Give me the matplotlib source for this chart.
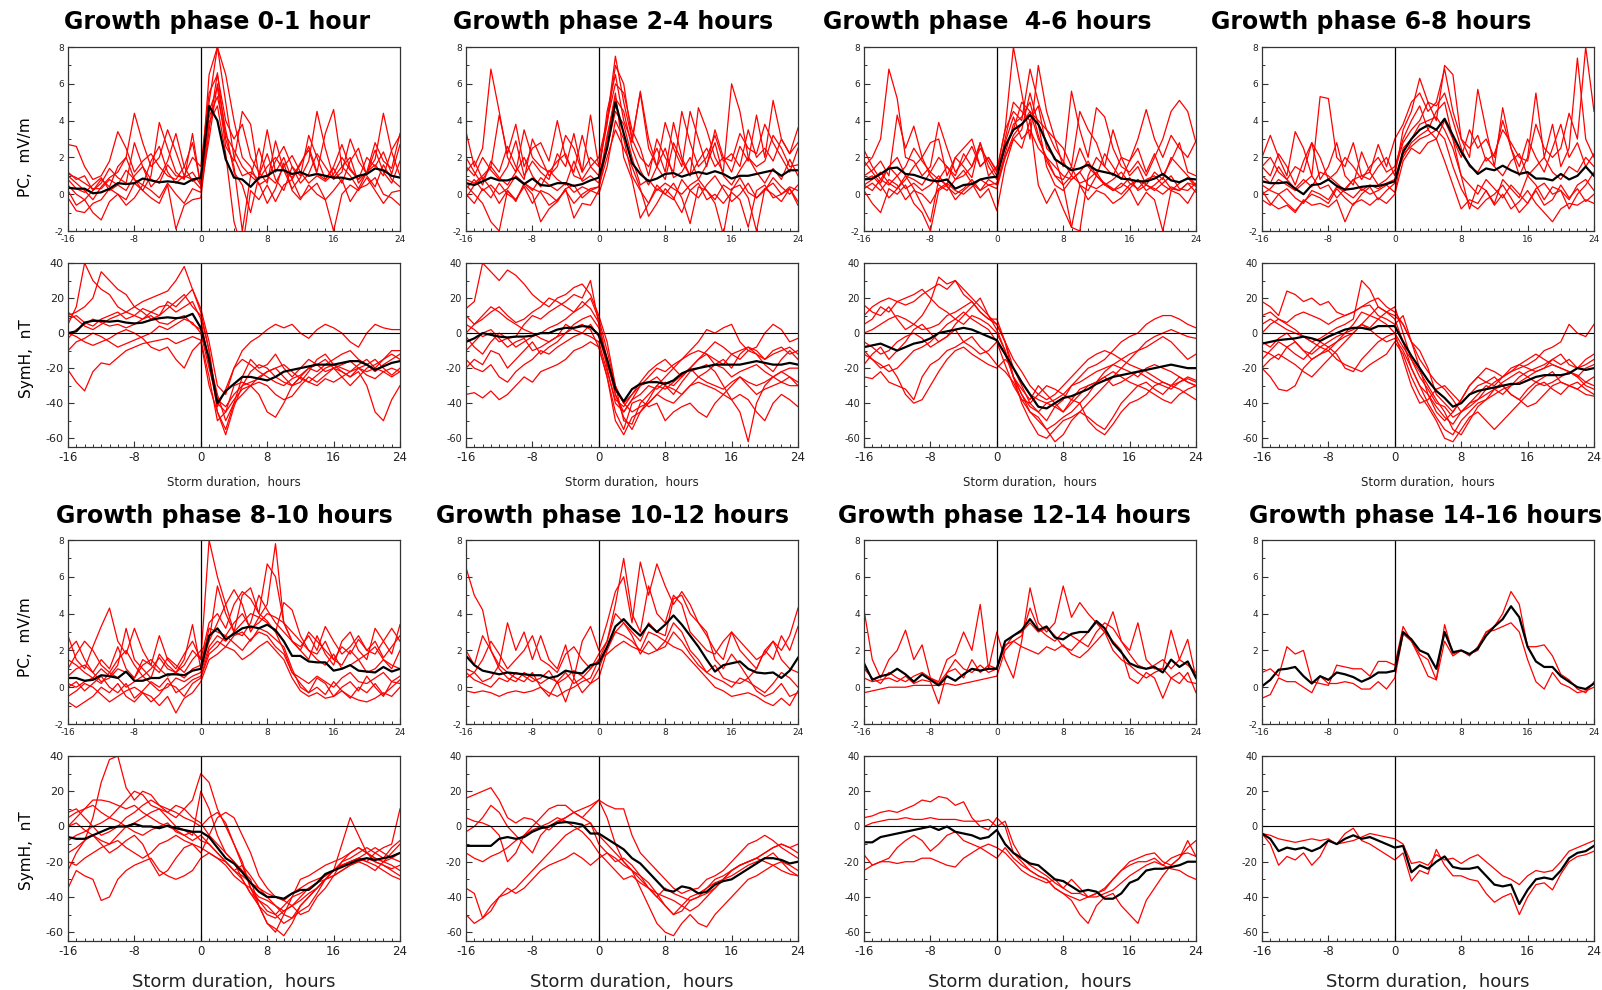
import matplotlib
matplotlib.use("Agg")
import matplotlib.pyplot as plt
import numpy as np
from matplotlib.ticker import MultipleLocator

plt.rcParams['font.family'] = ['DejaVu Sans']
plt.rcParams['axes.unicode_minus'] = False

hours = list(range(-16, 25))

titles = ["Growth phase 0-1 hour", "Growth phase 2-4 hours", "Growth phase  4-6 hours",
          "Growth phase 6-8 hours", "Growth phase 8-10 hours", "Growth phase 10-12 hours",
          "Growth phase 12-14 hours", "Growth phase 14-16 hours"]

# ---- 0-1 hour ----
pc_mean_0 = [0.35,0.3,0.3,0.05,0.1,0.3,0.6,0.55,0.6,0.85,0.75,0.65,0.7,0.65,0.55,0.8,0.9,
             4.8,4.0,1.9,0.9,0.8,0.4,0.9,1.0,1.3,1.3,1.1,1.2,1.0,1.1,1.0,0.9,0.9,0.8,1.0,1.1,1.4,1.3,1.0,0.9]
pc_red_0 = [
    [2.7,2.6,1.5,0.8,1.0,1.8,3.4,2.5,1.2,1.8,2.2,1.5,1.0,0.8,1.5,2.8,0.5,
     6.5,8.0,5.0,2.0,1.0,1.2,0.8,1.5,2.0,1.3,0.9,1.7,2.4,1.1,0.8,1.5,2.7,1.4,0.8,1.2,1.6,1.0,2.4,3.2],
    [1.0,0.6,0.2,-0.3,0.4,0.9,1.2,2.0,4.4,2.8,1.5,2.0,3.5,2.3,1.0,2.0,1.5,
     5.5,6.5,4.0,3.0,3.8,2.0,1.2,0.6,2.9,1.3,0.3,0.9,1.8,4.5,2.5,0.9,1.5,1.0,0.3,1.2,1.9,4.4,2.3,1.0],
    [0.2,-0.6,-0.3,-1.0,-1.4,-0.4,0.0,-0.3,0.6,0.2,-0.2,-0.5,0.5,-1.9,-0.6,-0.3,-0.2,
     3.5,6.6,3.0,1.5,-2.0,1.0,0.6,-0.5,0.3,1.7,0.2,-0.3,0.5,0.0,-0.3,0.2,0.8,-0.4,0.3,0.5,0.9,0.0,-0.2,-0.6],
    [0.8,0.3,0.1,0.5,0.9,0.2,0.5,1.3,0.8,0.2,1.0,3.9,2.5,1.2,0.8,3.3,0.4,
     4.5,5.8,2.6,1.8,4.5,3.8,1.0,3.5,1.2,2.0,0.8,1.6,2.6,1.2,3.3,4.6,1.5,2.0,0.6,1.2,2.8,1.8,1.4,3.3],
    [-0.2,-0.9,-1.0,-0.5,-0.3,0.3,0.0,-0.6,-0.2,0.5,0.2,-0.2,0.6,0.0,-0.5,0.3,0.1,
     3.9,4.8,2.2,-1.5,-3.0,0.2,-0.3,0.5,-0.4,0.5,0.8,-0.2,0.2,0.6,-0.3,-2.0,0.0,0.5,0.2,0.9,0.2,-0.5,0.1,0.2],
    [1.1,0.9,0.6,0.3,0.3,0.8,0.5,0.2,1.0,1.5,0.8,0.6,1.6,1.0,0.9,1.2,0.5,
     4.2,5.3,3.2,2.4,1.5,1.0,2.5,1.0,0.6,1.5,2.1,1.2,0.6,1.0,0.7,1.1,2.0,1.3,0.8,2.0,1.5,2.3,1.1,2.7],
    [0.5,0.0,-0.3,0.2,0.8,0.4,1.5,2.0,0.8,0.5,1.8,2.6,1.2,0.6,1.0,0.8,0.3,
     3.0,6.0,3.5,1.2,0.5,-1.0,1.0,2.2,0.8,0.2,1.5,1.0,3.2,2.0,0.8,1.4,0.6,1.8,2.5,1.0,0.4,1.6,0.8,0.4],
    [1.2,0.8,1.0,0.2,0.6,1.4,0.9,0.6,2.8,1.5,0.4,0.9,1.8,3.3,1.5,0.7,0.9,
     5.0,8.0,6.5,4.0,2.0,1.5,0.5,0.8,1.8,2.6,1.5,0.6,1.1,2.2,1.5,0.8,1.2,3.0,1.8,1.1,2.4,1.2,0.6,1.8],
]
symh_mean_0 = [0,1,6,7,7,6.5,7,6,5.5,6,7.5,8.5,9,8.5,9,11,3,
               -15,-40,-33,-29,-25,-25,-26,-27,-25,-22,-21,-20,-19,-18,-18,-18,-17,-16,-16,-18,-21,-19,-17,-16]
symh_red_0 = [
    [-21,-28,-33,-22,-17,-18,-14,-10,-8,-6,-5,-4,-3,-6,-4,-2,-4,
     -25,-50,-45,-38,-32,-30,-28,-30,-35,-38,-36,-30,-25,-28,-24,-20,-22,-25,-22,-30,-45,-50,-38,-30],
    [5,15,40,30,25,22,15,12,10,8,12,10,18,15,20,25,14,
     -5,-30,-35,-20,-10,-5,-2,2,5,3,5,0,-3,2,5,3,0,-5,-8,0,5,3,2,2],
    [10,12,15,20,35,30,25,22,15,18,20,22,24,30,38,25,12,
     -10,-40,-45,-30,-28,-30,-25,-22,-20,-25,-30,-28,-22,-15,-12,-18,-20,-22,-18,-15,-20,-22,-25,-22],
    [0,-2,-5,-7,-5,-3,0,2,0,-3,-8,-10,-8,-15,-20,-10,-5,
     -30,-45,-55,-40,-25,-15,-20,-18,-12,-20,-25,-20,-15,-18,-22,-20,-25,-30,-25,-20,-18,-15,-12,-15],
    [8,10,6,4,8,10,12,8,10,14,12,15,16,12,15,18,8,
     -18,-42,-32,-20,-15,-18,-22,-25,-28,-30,-26,-24,-20,-18,-15,-20,-18,-16,-20,-22,-20,-15,-10,-10],
    [-3,2,5,8,6,4,5,3,5,8,10,6,5,8,10,5,2,
     -15,-35,-50,-40,-35,-30,-35,-45,-48,-40,-30,-25,-28,-30,-26,-28,-25,-22,-20,-24,-26,-22,-20,-22],
    [12,8,4,2,5,8,10,12,15,12,8,10,14,18,22,15,10,
     -10,-45,-58,-42,-30,-22,-18,-20,-25,-28,-30,-25,-20,-22,-18,-15,-12,-10,-15,-18,-22,-18,-15,-12],
    [-10,-5,-3,0,-2,-5,-8,-6,-4,-2,0,4,2,5,8,6,0,
     -20,-38,-42,-35,-30,-28,-26,-22,-20,-18,-22,-26,-28,-24,-20,-18,-22,-25,-20,-18,-15,-20,-24,-20],
]

# ---- 2-4 hours ----
pc_mean_1 = [0.6,0.5,0.7,0.9,0.75,0.75,0.9,0.55,0.85,0.5,0.45,0.6,0.6,0.45,0.55,0.75,0.9,
             2.5,5.0,3.3,1.7,1.1,0.7,0.85,1.1,1.15,0.95,1.1,1.2,1.1,1.25,1.1,0.85,1.0,1.0,1.1,1.2,1.3,1.0,1.3,1.3]
pc_red_1 = [
    [3.4,1.5,2.5,6.8,4.5,2.0,1.2,3.5,2.0,1.5,1.2,1.8,2.2,1.0,0.8,1.5,2.0,
     4.0,7.5,5.0,3.0,5.5,2.5,1.5,0.8,2.8,1.8,1.0,4.7,3.5,2.0,1.2,6.0,4.5,2.0,1.5,1.8,3.2,2.5,1.5,1.6],
    [0.5,0.0,-0.5,-1.5,-2.0,0.2,-0.3,0.5,0.0,-1.5,-0.8,-0.4,0.3,-1.3,-0.5,-0.6,0.2,
     3.0,5.5,2.0,0.8,-1.3,-0.5,0.3,0.0,0.6,-0.2,-1.6,0.4,0.2,-0.5,-2.2,0.3,0.5,-0.2,-2.0,0.3,0.0,-0.4,0.3,-0.6],
    [1.2,1.8,0.8,1.5,4.3,2.2,3.8,1.5,2.5,2.8,1.8,4.0,2.0,1.2,3.2,1.5,1.0,
     4.5,6.5,4.0,2.8,5.6,3.0,1.5,3.9,2.5,1.5,4.5,3.0,1.5,3.5,2.0,1.2,2.6,1.8,4.3,2.0,5.1,3.0,2.2,3.6],
    [0.3,0.8,0.2,0.5,0.0,0.3,1.0,0.6,0.2,0.9,0.5,0.2,0.6,0.1,0.4,0.2,0.4,
     2.5,4.5,3.8,2.0,0.5,0.8,0.2,0.6,0.3,0.0,0.5,0.8,0.2,-0.3,0.5,0.2,0.9,0.1,-0.2,0.3,0.6,0.0,0.4,0.2],
    [1.5,1.0,2.0,1.3,0.8,1.5,2.9,1.0,1.8,1.2,0.8,2.2,1.5,3.3,1.2,4.3,1.5,
     3.8,7.0,6.0,3.0,2.0,1.5,2.5,1.2,3.9,2.0,1.0,1.8,2.5,1.5,2.0,1.8,3.3,2.5,2.2,3.8,2.8,2.0,1.2,2.5],
    [-0.2,0.5,0.9,0.3,-0.5,0.2,-0.4,0.6,0.3,0.1,-0.6,-0.3,0.2,-0.5,0.0,0.3,0.4,
     2.0,3.5,2.5,1.5,0.3,-1.2,-0.5,0.3,-0.2,-1.0,0.2,0.6,-0.3,0.0,-0.5,0.1,-0.3,-1.8,0.2,0.5,-0.2,0.0,0.3,-0.4],
    [0.8,0.6,1.0,1.5,0.9,0.5,1.2,2.0,1.0,0.4,1.3,0.8,0.5,1.8,0.7,1.0,0.6,
     3.2,5.2,4.5,2.5,1.3,0.5,1.5,2.5,0.9,1.2,2.0,0.8,1.6,2.8,1.0,0.5,1.3,2.0,1.2,0.6,1.4,0.8,1.9,1.0],
    [2.0,1.2,0.5,1.8,1.2,2.6,1.5,0.8,3.0,2.0,1.0,1.5,3.2,2.5,1.2,2.0,1.5,
     4.0,6.0,5.5,3.5,2.5,1.0,3.0,2.0,1.2,4.5,2.8,1.5,2.0,3.2,1.8,2.2,1.5,3.5,2.0,2.5,1.8,3.0,2.2,2.8],
    [0.0,-0.5,0.3,-0.2,0.6,0.0,-0.3,0.4,-0.5,0.2,0.0,-0.4,0.3,0.5,-0.2,0.2,0.0,
     1.5,4.0,3.0,1.0,0.2,-0.5,0.5,0.0,-0.3,0.8,0.2,-0.2,0.5,1.0,0.3,-0.4,0.0,0.6,-0.2,0.2,0.9,0.4,0.0,0.5],
]
symh_mean_1 = [-5,-3,0,-1,-2,-2.5,-2,-2,-1.5,0,0,2,3,3,4,3.5,-1,
               -15,-32,-39,-32,-29,-28,-28,-29,-27,-23,-21,-20,-19,-18,-18,-18,-18,-17,-16,-17,-18,-18,-17,-18]
symh_red_1 = [
    [14,18,40,35,30,36,33,28,22,18,15,20,22,26,28,22,10,
     -5,-30,-50,-52,-40,-35,-30,-25,-20,-15,-10,-5,2,0,3,5,-5,-10,-8,0,5,2,-5,-3],
    [-35,-34,-37,-33,-38,-35,-30,-25,-28,-22,-20,-18,-15,-10,-8,-5,-8,
     -25,-45,-55,-40,-38,-42,-40,-50,-45,-42,-40,-45,-48,-40,-35,-38,-35,-38,-45,-50,-40,-35,-38,-42],
    [-20,-15,-18,-10,-12,-20,-15,-10,-5,-12,-8,-5,0,5,8,10,3,
     -15,-35,-45,-38,-30,-28,-25,-30,-35,-28,-22,-20,-18,-22,-30,-38,-45,-62,-40,-30,-25,-22,-20,-20],
    [5,2,-2,0,-5,-3,-8,-5,-2,0,3,5,8,12,15,20,8,
     -10,-30,-40,-35,-28,-22,-18,-15,-20,-25,-20,-15,-10,-5,-8,-12,-15,-10,-12,-15,-10,-8,-12,-10],
    [-2,-8,-12,-5,0,-3,-2,5,10,8,12,15,18,22,20,30,5,
     -20,-40,-45,-38,-35,-30,-32,-28,-30,-25,-20,-15,-12,-18,-20,-25,-22,-20,-18,-22,-25,-28,-30,-30],
    [-10,-5,0,2,-3,-8,-5,-3,-10,-8,-5,-2,5,2,0,-2,-5,
     -22,-38,-42,-35,-30,-25,-20,-22,-18,-15,-12,-10,-12,-15,-18,-12,-10,-8,-10,-15,-12,-10,-8,-12],
    [0,5,10,15,12,8,5,2,0,-3,-5,-2,0,3,5,2,-8,
     -25,-50,-58,-48,-45,-40,-35,-38,-40,-35,-30,-25,-28,-30,-32,-28,-25,-30,-35,-32,-30,-28,-25,-30],
    [10,5,8,12,15,10,6,8,12,15,20,18,15,12,18,14,6,
     -15,-35,-48,-55,-45,-38,-30,-32,-28,-24,-20,-25,-22,-18,-15,-20,-12,-8,-12,-18,-22,-15,-10,-15],
    [-15,-20,-22,-18,-25,-28,-22,-18,-15,-10,-12,-8,-5,-2,0,5,-2,
     -18,-32,-40,-45,-42,-40,-35,-30,-32,-35,-30,-28,-30,-32,-35,-30,-25,-28,-30,-28,-25,-22,-25,-28],
]

# ---- 4-6 hours ----
pc_mean_2 = [0.8,0.85,1.1,1.4,1.45,1.1,1.05,0.9,0.75,0.7,0.8,0.3,0.5,0.55,0.8,0.9,0.95,
             2.6,3.5,3.8,4.3,3.8,2.8,1.9,1.6,1.3,1.4,1.6,1.3,1.2,1.1,0.85,0.8,0.7,0.7,0.85,1.1,0.75,0.65,0.85,0.8]
pc_red_2 = [
    [1.5,2.0,3.0,6.8,5.2,2.0,1.8,1.0,1.5,3.9,2.5,1.2,1.8,2.6,1.5,2.0,1.2,
     3.5,8.0,5.5,3.0,7.0,4.5,3.0,1.5,5.6,3.5,2.0,4.7,4.2,2.5,1.5,1.2,1.8,1.0,2.0,3.0,4.5,5.1,4.5,2.8],
    [0.2,-0.5,-1.0,0.3,0.0,0.5,-0.5,-1.0,-2.0,0.2,0.5,-0.3,0.2,0.6,-0.2,0.3,-0.9,
     1.5,3.0,2.5,4.0,0.5,-0.5,0.3,-0.8,-1.8,0.5,-0.3,0.2,0.0,-0.5,-0.2,0.3,-0.6,0.1,-0.3,-2.0,0.2,0.0,-0.5,0.3],
    [1.0,1.3,1.8,1.0,4.3,2.5,3.7,2.0,2.8,3.0,1.0,2.0,2.5,3.0,1.5,2.0,1.3,
     3.5,4.5,4.0,6.8,5.0,3.5,3.0,2.5,1.5,4.5,3.5,2.8,1.5,1.0,2.0,1.8,3.0,4.6,3.0,2.0,3.2,2.5,2.0,2.9],
    [0.5,0.2,0.8,1.5,1.0,0.3,0.6,0.2,0.5,1.0,0.4,0.0,0.3,0.8,0.2,0.5,0.3,
     2.0,3.0,3.5,5.5,3.8,1.5,0.5,0.2,0.8,1.2,0.5,0.3,0.6,0.2,0.4,0.9,0.2,0.5,0.3,0.0,0.4,0.2,0.6,0.1],
    [2.4,1.5,0.8,0.5,1.0,1.5,2.5,1.8,1.2,0.8,0.5,2.0,1.5,0.9,2.8,1.5,0.8,
     3.0,5.0,4.5,4.0,4.8,2.5,2.0,0.5,-1.8,-2.0,1.0,2.0,1.5,3.5,2.0,1.0,1.5,0.5,1.2,0.8,2.0,1.5,1.0,0.5],
    [0.8,1.0,0.5,-0.2,0.3,1.0,0.8,0.5,1.2,2.0,1.5,0.8,1.0,1.5,2.5,1.8,1.0,
     2.8,4.2,3.0,3.5,2.5,2.0,1.5,1.0,0.8,1.2,1.8,1.0,0.5,0.8,1.2,0.6,0.3,0.8,1.0,0.5,0.2,0.6,0.9,0.4],
    [0.3,0.6,0.2,0.8,0.5,-0.3,0.2,0.0,-0.5,0.3,0.6,0.2,0.0,0.4,0.8,0.5,0.6,
     2.2,3.8,4.2,5.0,3.2,1.8,1.0,0.8,1.5,0.5,0.2,1.0,0.6,0.3,0.0,0.5,0.8,0.2,0.5,0.9,0.3,0.2,0.6,0.5],
    [1.8,1.2,0.6,1.5,2.0,1.0,0.3,-0.6,-1.5,0.8,1.5,1.0,2.2,1.5,2.8,1.0,1.5,
     2.5,3.5,5.0,4.5,3.0,2.0,1.0,0.5,1.0,2.5,1.5,1.0,2.2,1.5,0.8,1.8,2.5,1.2,2.2,1.0,1.8,2.8,1.2,1.0],
    [0.5,0.8,1.2,0.6,0.3,0.8,1.5,2.0,1.0,0.5,0.2,0.8,1.3,0.6,0.2,0.8,0.5,
     2.0,3.2,3.8,4.5,4.0,3.5,2.5,1.8,1.0,0.6,0.8,1.2,0.5,0.2,0.6,0.3,0.8,0.5,0.2,0.6,1.0,0.3,0.2,0.6],
]
symh_mean_2 = [-8,-7,-6,-8,-10,-8,-6,-5,-3,0,1,2,3,2,0,-2,-4,
               -12,-20,-28,-35,-42,-43,-40,-37,-36,-34,-32,-29,-27,-25,-24,-23,-22,-21,-20,-19,-18,-19,-20,-20]
symh_red_2 = [
    [16,12,10,15,8,2,5,10,18,32,28,30,25,20,15,10,5,
     -5,-20,-30,-40,-45,-50,-42,-38,-30,-25,-20,-18,-15,-10,-5,-2,0,5,8,10,10,8,5,3],
    [-25,-26,-22,-28,-30,-32,-38,-25,-18,-15,-10,-8,-5,-2,-8,-12,-18,
     -22,-28,-38,-45,-48,-55,-52,-48,-45,-40,-50,-55,-58,-52,-45,-40,-38,-35,-30,-28,-30,-32,-35,-38],
    [0,2,5,8,10,8,5,2,3,5,10,12,15,18,12,8,5,
     -5,-25,-40,-50,-58,-60,-55,-50,-48,-45,-40,-35,-30,-25,-20,-15,-10,-5,-2,0,2,0,-2,-3],
    [-10,-15,-20,-18,-25,-35,-40,-38,-30,-22,-15,-10,-8,-12,-15,-18,-20,
     -15,-20,-28,-35,-38,-40,-42,-45,-40,-35,-30,-28,-25,-22,-25,-28,-30,-32,-35,-38,-40,-35,-32,-30],
    [10,15,18,20,18,16,18,22,25,28,25,30,22,18,12,8,8,
     -5,-15,-22,-30,-35,-38,-35,-30,-25,-20,-15,-12,-10,-12,-15,-18,-20,-22,-25,-28,-30,-28,-25,-27],
    [-5,-8,-12,-10,-5,-2,0,-3,-8,-5,-2,2,-5,-8,-12,-10,-5,
     -12,-25,-35,-42,-45,-40,-38,-35,-30,-28,-25,-22,-20,-18,-20,-22,-25,-20,-18,-20,-22,-25,-28,-30],
    [-18,-12,-8,-15,-10,-5,2,5,0,-5,-2,5,10,15,20,10,2,
     -10,-25,-32,-38,-30,-35,-40,-45,-38,-32,-30,-28,-25,-30,-28,-25,-22,-25,-28,-30,-32,-28,-26,-28],
    [5,8,15,12,18,20,22,25,20,15,12,8,5,10,8,5,0,
     -10,-25,-35,-45,-50,-55,-62,-58,-50,-45,-48,-52,-55,-48,-40,-35,-30,-28,-32,-35,-30,-25,-28,-30],
    [-12,-15,-18,-22,-20,-15,-10,-8,-5,0,5,8,12,8,5,2,-5,
     -18,-30,-38,-40,-35,-30,-32,-35,-38,-40,-35,-28,-22,-18,-15,-12,-10,-8,-5,-2,-5,-10,-15,-12],
]

# ---- 6-8 hours ----
pc_mean_3 = [0.7,0.6,0.6,0.65,0.3,0.0,0.5,0.55,0.8,0.45,0.25,0.3,0.4,0.45,0.45,0.55,0.7,
             2.3,3.0,3.5,3.75,3.5,4.1,3.2,2.3,1.6,1.1,1.4,1.3,1.55,1.3,1.1,1.2,0.85,0.85,0.75,1.1,0.8,1.0,1.5,1.0]
pc_red_3 = [
    [2.0,3.2,2.0,1.0,3.4,2.5,1.0,5.3,5.2,2.0,1.5,2.8,1.0,0.8,1.5,2.0,1.0,
     3.5,4.5,6.3,5.0,4.0,7.0,6.5,3.0,2.0,5.7,3.5,1.5,4.7,2.5,1.0,2.0,5.5,2.0,3.8,1.5,2.5,7.4,3.0,2.0],
    [0.2,-0.5,-0.8,-0.6,-1.0,-0.3,-0.6,-0.5,-0.7,-0.3,-1.5,-0.5,-0.3,-0.6,-0.2,-0.5,0.0,
     1.8,2.5,2.2,2.8,3.0,1.8,0.5,-0.8,-0.3,-0.5,0.2,-0.6,0.0,-0.8,-0.4,0.2,-0.5,-1.0,-1.5,-0.8,-0.5,-0.6,-0.3,-0.5],
    [1.5,1.0,2.2,1.5,0.5,1.8,2.8,0.8,1.5,2.8,1.0,0.5,2.3,1.2,2.7,1.5,3.0,
     3.8,5.0,5.5,4.5,5.0,6.8,4.5,3.0,2.5,3.2,1.8,2.2,3.5,2.8,2.0,1.8,3.8,2.5,2.0,2.5,4.4,3.0,8.0,4.5],
    [0.5,0.2,0.0,0.3,-0.2,-0.5,0.2,0.0,-0.3,0.4,0.1,-0.2,0.3,0.0,0.2,0.5,0.1,
     2.5,3.0,3.8,4.0,4.2,3.5,2.5,1.0,0.5,0.0,0.8,0.3,-0.2,0.5,0.0,-0.5,0.3,0.6,0.0,0.2,-0.3,0.5,0.8,0.2],
    [1.0,0.6,1.5,0.8,0.3,0.8,0.4,1.2,1.0,0.6,0.2,0.8,1.0,1.2,0.5,0.8,1.3,
     2.8,3.5,4.0,5.0,4.8,5.5,4.0,2.5,1.5,1.2,2.0,1.5,1.0,1.8,2.2,1.0,1.5,2.0,1.2,0.8,1.5,1.2,2.0,1.5],
    [0.0,0.3,0.8,0.5,0.2,0.6,1.0,0.3,0.5,-0.2,0.3,0.8,0.2,0.5,0.3,0.6,0.8,
     2.0,2.8,3.2,3.5,3.0,4.0,3.0,1.0,-0.8,0.5,0.2,-0.5,0.8,0.3,-0.2,1.0,0.5,-0.3,0.4,0.2,-0.8,0.0,0.5,1.2],
    [1.5,2.0,1.2,0.8,1.5,1.2,2.8,2.0,0.8,1.2,2.0,1.5,0.8,1.5,2.0,1.2,1.5,
     3.0,4.0,4.8,3.5,4.5,5.0,3.0,2.0,3.5,2.5,3.0,2.0,4.0,2.5,1.5,3.0,2.0,1.2,2.5,3.8,2.0,2.8,1.5,2.2],
    [-0.3,-0.6,0.0,-0.5,-0.9,-0.4,0.0,-0.2,-0.5,0.3,-0.2,-0.6,0.0,0.4,-0.3,0.2,0.6,
     2.2,2.6,3.0,3.2,3.5,3.0,1.5,0.3,-0.5,-0.8,-0.3,0.0,0.5,-0.2,-1.0,-0.5,0.2,-0.6,-0.3,0.5,-0.2,0.3,-0.4,0.0],
]
symh_mean_3 = [-6,-5,-4,-3.5,-3,-2,-3,-4.5,-2,0,2,3,3,2,4,4,4,
               -5,-13,-20,-27,-33,-37,-42,-40,-35,-33,-32,-31,-30,-29,-29,-27,-25,-24,-24,-24,-23,-20,-21,-20]
symh_red_3 = [
    [18,15,10,24,22,18,20,16,18,12,10,12,15,16,10,8,5,
     10,-5,-20,-35,-45,-50,-45,-38,-30,-25,-20,-22,-25,-20,-18,-15,-12,-15,-18,-20,-22,-25,-20,-18],
    [-20,-25,-32,-33,-30,-20,-15,-12,-10,-15,-18,-20,-22,-18,-15,-12,-5,
     -12,-25,-35,-42,-50,-60,-62,-55,-48,-45,-50,-55,-50,-45,-40,-35,-30,-28,-32,-35,-30,-28,-32,-35],
    [5,8,5,2,0,-2,-5,-3,0,3,5,8,30,25,15,12,10,
     5,-5,-10,-20,-35,-40,-45,-38,-30,-25,-28,-30,-25,-22,-20,-18,-15,-10,-8,-5,5,0,-2,5],
    [-10,-12,-15,-8,-5,-10,-15,-12,-8,-5,-2,0,5,3,8,5,0,
     -15,-30,-40,-38,-32,-30,-35,-40,-35,-30,-28,-25,-30,-35,-38,-32,-28,-25,-22,-28,-30,-32,-35,-36],
    [-15,-10,-5,-8,-12,-15,-10,-5,-8,-12,-20,-22,-15,-10,-5,-2,0,
     -8,-15,-22,-30,-38,-45,-55,-58,-50,-42,-38,-35,-32,-30,-28,-25,-22,-20,-18,-20,-22,-24,-28,-30],
    [0,5,8,5,2,-2,-5,-8,-10,-5,0,5,12,10,8,12,15,
     0,-15,-25,-32,-40,-42,-48,-45,-40,-35,-30,-32,-35,-30,-25,-22,-20,-18,-15,-18,-15,-20,-18,-15],
    [-5,-8,-3,0,-5,-10,-12,-8,-5,-2,0,2,5,2,-2,-5,-3,
     -10,-20,-30,-35,-42,-48,-52,-45,-40,-38,-35,-32,-30,-35,-38,-42,-40,-35,-30,-28,-30,-32,-28,-25],
    [-20,-15,-12,-15,-18,-22,-25,-20,-15,-10,-5,0,5,10,15,12,8,
     -5,-20,-30,-40,-48,-55,-58,-50,-45,-40,-38,-32,-28,-25,-22,-25,-28,-30,-28,-25,-22,-25,-30,-32],
    [10,12,8,6,10,12,10,8,5,8,10,12,15,18,20,15,12,
     5,-5,-15,-22,-28,-32,-38,-45,-42,-38,-32,-28,-25,-22,-18,-20,-22,-20,-15,-12,-18,-20,-15,-12],
]

# ---- 8-10 hours ----
pc_mean_4 = [0.5,0.5,0.35,0.4,0.65,0.6,0.5,0.85,0.35,0.35,0.5,0.5,0.7,0.7,0.65,0.9,1.0,
             2.8,3.2,2.6,2.9,3.2,3.3,3.2,3.4,3.1,2.5,1.7,1.7,1.4,1.35,1.35,0.9,1.0,1.2,0.9,0.85,0.8,1.1,0.85,1.0]
pc_red_4 = [
    [2.8,1.5,1.0,2.2,3.3,4.3,2.5,1.8,3.2,2.0,1.2,2.8,1.5,1.0,1.8,2.5,1.5,
     8.0,6.0,4.5,3.0,5.0,5.4,4.0,6.7,6.0,3.5,2.5,2.0,1.5,2.8,1.8,1.2,2.5,3.0,2.0,1.5,3.2,2.5,1.8,3.4],
    [-0.8,-1.1,-0.8,-0.5,0.0,-0.3,0.2,-0.5,-0.8,-0.3,-0.5,-1.0,-0.5,-1.4,-0.6,-0.3,0.3,
     1.5,1.8,2.2,2.0,1.5,1.8,2.2,2.5,2.0,1.5,0.5,-0.2,-0.5,-0.3,-0.6,-0.5,-0.2,-0.5,-0.7,-0.8,-0.6,-0.3,-0.5,0.0],
    [1.5,1.2,0.8,0.5,1.0,0.6,1.2,3.2,1.5,1.0,0.5,1.8,1.2,0.8,1.5,3.4,1.0,
     2.5,3.5,4.5,5.3,4.5,3.0,3.8,4.5,7.8,3.5,2.5,2.0,3.0,2.5,2.0,1.5,1.2,2.0,1.5,1.8,2.2,1.5,1.0,2.0],
    [0.2,0.0,0.3,0.5,0.2,0.8,0.5,0.0,0.3,0.6,0.2,-0.2,0.0,0.5,0.3,0.6,0.8,
     2.2,2.8,2.5,3.0,3.5,4.0,3.8,3.5,3.0,2.0,0.8,0.5,0.2,0.6,0.3,0.0,0.5,0.8,0.3,0.2,0.5,0.8,0.3,0.6],
    [0.6,1.0,1.2,0.8,0.3,0.5,1.0,0.8,0.5,1.2,1.5,1.0,0.6,0.8,0.5,1.0,1.2,
     3.2,3.0,2.8,3.5,4.0,3.2,3.5,4.0,3.8,3.5,3.0,2.5,2.0,1.5,1.2,1.8,1.0,1.2,1.5,0.8,1.0,1.5,1.2,1.0],
    [0.0,0.3,-0.2,0.2,0.6,0.0,-0.3,0.2,-0.6,-0.2,0.3,0.0,0.5,-0.3,0.0,0.4,0.6,
     2.0,2.5,2.2,2.8,3.0,2.5,3.2,3.0,2.6,2.2,1.0,0.0,-0.3,0.5,0.2,-0.5,0.0,0.3,-0.2,0.6,0.0,-0.5,0.3,0.2],
    [2.0,2.5,1.5,0.8,1.5,1.0,2.2,1.0,0.5,1.5,1.2,0.8,1.6,1.2,0.8,1.5,2.0,
     2.5,5.5,4.0,3.0,2.8,3.5,5.0,4.2,3.5,3.0,2.5,2.2,2.8,2.0,3.3,2.5,1.8,2.2,2.8,2.0,1.8,2.5,3.2,2.5],
    [1.0,1.8,2.5,2.0,1.2,0.8,1.5,2.0,1.2,0.6,1.0,1.6,1.0,0.8,1.2,2.0,1.5,
     3.5,4.0,3.2,4.5,5.2,4.8,4.0,3.6,3.0,4.6,4.2,2.8,2.0,1.8,2.5,1.5,2.2,1.8,2.6,2.0,2.5,1.6,2.2,2.8],
    [-0.5,-0.2,0.2,0.0,-0.4,-0.8,-0.5,-0.2,0.0,-0.3,-0.8,-0.4,0.2,0.0,-0.5,0.2,0.5,
     1.8,2.2,2.8,2.4,2.0,2.6,3.0,2.8,2.2,1.8,0.8,0.2,-0.3,0.0,-0.4,0.3,-0.2,-0.6,0.0,-0.3,0.2,-0.4,0.0,0.4],
]
symh_mean_4 = [-6,-7,-7,-5,-3,-1,0,0,1.5,0,0,-1,0.5,-1,-2,-3,-3,
               -6,-12,-18,-21,-26,-32,-37,-40,-40,-41,-38,-36,-36,-32,-27,-25,-23,-21,-19,-18,-19,-18,-17,-15]
symh_red_4 = [
    [-25,-15,-8,5,25,38,40,22,15,20,18,12,8,5,10,15,30,
     25,10,0,-10,-20,-35,-45,-55,-60,-50,-40,-30,-28,-25,-22,-20,-18,-15,-12,-15,-18,-20,-15,-10],
    [-35,-25,-28,-30,-42,-40,-30,-25,-22,-20,-18,-25,-28,-30,-28,-25,-18,
     -15,-18,-20,-25,-30,-38,-42,-48,-50,-45,-40,-38,-35,-32,-28,-25,-22,-20,-18,-20,-22,-25,-28,-30],
    [5,8,10,15,15,14,12,10,12,8,5,2,0,-2,-5,-3,-8,
     -10,-15,-20,-25,-28,-32,-35,-40,-45,-50,-52,-48,-45,-38,-30,-25,-20,-18,-15,-12,-15,-18,-12,-8],
    [-15,-12,-8,-5,-10,-15,-12,-8,-5,-10,-20,-28,-25,-18,-12,-10,-15,
     -5,5,8,5,-5,-15,-28,-35,-40,-42,-38,-35,-32,-30,-28,-25,-10,5,-5,-15,-20,-22,-25,-28],
    [0,2,-2,-5,-8,-10,-5,0,2,5,8,10,5,0,-2,-5,20,
     10,-5,-15,-20,-25,-30,-45,-55,-58,-62,-55,-45,-40,-35,-30,-25,-22,-20,-18,-20,-15,-12,-10,10],
    [-8,-5,-3,0,2,5,3,0,-3,-5,-2,0,2,-3,-5,-8,-5,
     -10,-15,-20,-25,-22,-28,-35,-38,-40,-42,-45,-42,-38,-35,-30,-28,-25,-22,-20,-22,-25,-20,-18,-15],
    [8,10,5,0,-5,-3,0,5,8,12,15,12,10,8,5,3,0,
     5,8,2,-10,-22,-35,-42,-45,-50,-55,-52,-45,-40,-35,-30,-25,-22,-20,-18,-15,-18,-20,-22,-25],
    [0,5,10,12,8,5,10,15,20,18,12,10,8,12,10,5,2,
     -5,-10,-15,-20,-30,-38,-45,-50,-52,-48,-45,-50,-48,-40,-35,-28,-20,-15,-12,-15,-12,-15,-18,-20],
    [-20,-22,-18,-15,-12,-10,-8,-12,-15,-18,-15,-10,-8,-5,-8,-10,-12,
     -15,-18,-22,-28,-32,-35,-40,-42,-45,-48,-45,-40,-35,-32,-30,-28,-25,-22,-20,-18,-20,-22,-24,-22],
]

# ---- 10-12 hours ----
pc_mean_5 = [1.7,1.2,0.9,0.8,0.7,0.8,0.75,0.7,0.65,0.65,0.5,0.6,0.9,0.8,0.75,1.2,1.3,
             2.2,3.3,3.7,3.2,2.8,3.4,3.0,3.4,3.9,3.4,2.8,2.2,1.5,0.85,1.2,1.3,1.4,1.0,0.8,0.75,0.8,0.5,0.9,1.6]
pc_red_5 = [
    [6.5,5.0,4.2,2.0,1.0,0.5,0.3,0.8,0.5,0.2,0.5,0.3,0.8,0.2,0.5,1.0,1.5,
     2.5,4.5,7.0,4.0,3.0,5.5,4.0,3.5,5.0,4.5,3.0,2.5,2.0,1.8,2.5,3.0,2.5,2.0,1.5,1.8,2.5,2.0,2.8,4.3],
    [-0.2,-0.3,-0.2,-0.3,-0.5,-0.3,-0.2,-0.3,-0.2,0.0,-0.3,-0.5,-0.2,0.0,0.3,0.5,1.5,
     1.8,2.2,2.5,2.2,2.0,1.8,2.0,2.5,2.2,2.0,1.5,1.0,0.5,0.0,-0.2,-0.5,-0.4,-0.3,-0.5,-0.8,-1.0,-0.6,-1.0,-0.2],
    [2.0,1.2,2.8,2.0,1.2,3.5,2.0,3.0,1.5,2.8,1.5,1.0,2.3,0.5,2.5,3.3,2.0,
     3.5,5.2,6.0,3.5,6.8,5.0,6.7,5.5,4.5,5.2,4.5,3.5,2.8,2.0,1.5,3.0,2.0,1.5,1.0,2.0,1.5,2.8,2.0,3.3],
    [0.5,0.8,0.3,0.5,1.2,0.8,0.5,0.3,0.8,0.0,-0.5,0.3,-0.8,0.5,-0.3,0.2,1.0,
     2.2,3.0,2.8,2.5,2.0,3.0,2.8,2.5,3.5,3.0,2.0,1.5,0.8,0.5,0.3,0.0,0.5,0.3,0.0,-0.3,0.2,0.8,0.5,0.0],
    [1.0,0.8,1.5,2.5,1.8,1.0,1.5,2.0,2.8,1.5,1.2,0.8,1.8,2.2,1.5,1.0,1.8,
     2.5,4.0,3.5,3.0,2.5,3.5,3.0,2.8,4.8,5.0,4.0,3.5,3.0,1.5,1.0,1.8,1.2,0.5,1.0,2.0,2.5,1.5,1.0,0.8],
    [0.8,0.4,0.2,0.0,0.5,0.3,0.8,0.6,0.3,0.5,0.9,0.2,0.5,0.9,0.6,0.2,0.5,
     2.0,3.0,3.5,2.8,1.8,2.5,2.0,2.2,3.0,2.5,1.8,1.2,0.8,1.2,0.5,0.3,0.2,0.5,-0.2,-0.5,-0.3,0.2,-0.5,-0.3],
]
symh_mean_5 = [-11,-11,-11,-11,-7,-6,-7,-6,-3,-1,0,2,2.5,2,1,-4,-4,
               -7,-10,-13,-18,-21,-26,-31,-36,-37,-34,-35,-38,-37,-33,-31,-30,-27,-24,-21,-18,-18,-19,-21,-20]
symh_red_5 = [
    [16,18,20,22,15,5,2,5,4,0,-2,2,5,8,5,10,15,
     12,10,10,-5,-15,-20,-25,-30,-35,-38,-36,-35,-30,-28,-25,-20,-15,-10,-8,-5,-8,-12,-15,-18],
    [-50,-55,-52,-48,-40,-38,-35,-30,-25,-20,-15,-10,-5,-2,0,2,-5,
     -10,-15,-20,-25,-35,-45,-55,-60,-62,-55,-50,-55,-57,-50,-45,-40,-35,-30,-28,-25,-22,-20,-22,-25],
    [-35,-38,-52,-45,-40,-35,-38,-35,-30,-25,-22,-20,-18,-15,-18,-22,-18,
     -15,-20,-18,-22,-28,-35,-40,-45,-50,-45,-40,-38,-35,-32,-30,-28,-25,-22,-20,-18,-15,-20,-25,-28],
    [-3,0,5,12,8,0,-5,-10,-15,-5,0,3,5,8,10,12,15,
     5,-10,-20,-25,-30,-35,-38,-40,-42,-45,-48,-45,-40,-35,-30,-25,-22,-20,-18,-15,-12,-10,-12,-15],
    [5,3,2,0,-5,-20,-15,-5,0,5,10,12,12,8,5,2,-10,
     -15,-18,-22,-25,-28,-32,-38,-45,-50,-48,-42,-40,-38,-35,-30,-25,-22,-20,-18,-15,-12,-10,-12,-10],
    [-15,-18,-20,-17,-15,-12,-8,-5,-2,0,2,5,3,0,-3,-8,-15,
     -20,-25,-30,-28,-32,-35,-40,-35,-38,-40,-42,-40,-35,-30,-28,-25,-22,-20,-18,-20,-22,-25,-27,-28],
]

# ---- 12-14 hours ----
pc_mean_6 = [1.3,0.4,0.6,0.7,1.0,0.7,0.3,0.7,0.4,0.1,0.6,0.35,0.7,1.0,0.9,1.0,1.0,
             2.5,2.8,3.1,3.7,3.1,3.3,2.7,2.6,2.9,3.0,3.0,3.6,3.2,2.4,1.9,1.3,1.1,1.0,1.1,0.8,1.5,1.1,1.4,0.5]
pc_red_6 = [
    [4.2,1.5,0.5,1.5,2.0,3.1,1.5,2.3,0.5,0.3,1.5,1.8,3.0,2.0,4.5,1.0,3.0,
     1.5,0.5,2.5,5.4,3.5,3.0,3.5,5.5,3.8,4.6,4.0,3.5,3.0,4.1,2.5,2.0,3.5,1.5,1.0,1.0,3.1,1.5,2.6,0.5],
    [-0.3,-0.2,-0.1,0.0,0.0,0.0,0.1,0.1,0.1,0.1,0.2,0.1,0.2,0.3,0.4,0.5,0.6,
     2.0,2.5,2.2,2.0,1.8,2.2,2.0,2.3,1.8,1.6,2.0,2.5,3.0,2.5,2.0,0.5,0.2,0.8,0.5,-0.6,0.5,0.2,0.8,-0.3],
    [0.5,0.3,0.4,0.5,0.3,0.6,0.2,0.4,0.3,-0.9,0.8,1.0,0.5,1.5,0.8,1.2,1.0,
     2.2,2.8,3.0,3.5,3.0,3.2,2.8,2.2,2.0,2.5,3.0,3.5,3.0,2.0,1.5,1.2,0.8,0.5,0.8,1.0,0.5,0.8,0.3,0.2],
    [1.0,0.5,0.2,0.8,0.5,0.3,0.6,0.8,0.5,0.2,0.8,1.5,1.0,0.8,1.2,0.8,1.0,
     2.3,2.5,2.8,4.3,3.2,2.8,2.5,3.0,2.8,2.5,2.2,3.0,3.5,3.2,2.5,1.8,1.2,1.0,1.2,1.5,1.0,1.5,1.2,0.8],
]
symh_mean_6 = [-9,-9,-6,-5,-4,-3,-2,-1,0,-2,0,-3,-4,-5,-7,-6,-2,
               -10,-15,-18,-21,-22,-26,-30,-31,-34,-37,-36,-37,-41,-41,-38,-32,-30,-25,-24,-24,-23,-22,-20,-20]
symh_red_6 = [
    [5,6,8,9,8,10,12,15,14,17,16,12,14,5,0,-2,5,
     0,-15,-20,-25,-28,-30,-35,-38,-42,-50,-55,-45,-40,-38,-45,-50,-55,-42,-35,-28,-22,-18,-12,-8],
    [0,2,3,4,4,5,4,4,5,4,4,4,3,3,3,4,0,
     3,-10,-18,-22,-25,-28,-32,-35,-30,-35,-40,-38,-35,-30,-25,-20,-18,-16,-15,-20,-22,-18,-8,-17],
    [-16,-22,-20,-18,-12,-8,-5,-8,-14,-10,-5,-3,-8,-10,-12,-15,-18,
     -12,-18,-22,-25,-28,-30,-35,-38,-40,-42,-40,-38,-36,-30,-25,-22,-20,-20,-18,-22,-24,-25,-28,-30],
    [-25,-22,-20,-20,-21,-20,-20,-18,-18,-20,-22,-23,-18,-15,-12,-10,-12,
     -15,-20,-25,-28,-30,-32,-30,-35,-38,-38,-40,-40,-38,-36,-32,-28,-25,-22,-20,-22,-18,-16,-15,-17],
]

# ---- 14-16 hours ----
pc_mean_7 = [0.05,0.4,0.95,1.0,1.1,0.6,0.2,0.6,0.4,0.8,0.7,0.55,0.3,0.5,0.8,0.8,0.9,
             3.0,2.6,2.0,1.8,1.0,3.0,1.9,2.0,1.8,2.1,2.8,3.3,3.7,4.4,3.8,2.2,1.4,1.1,1.1,0.6,0.3,0.0,-0.1,0.2]
pc_red_7 = [
    [0.8,1.0,0.6,2.2,1.8,2.0,0.3,0.2,0.1,1.2,1.1,1.0,1.0,0.6,1.4,1.4,1.2,
     3.3,2.5,1.8,1.5,0.4,3.4,1.8,2.0,1.7,2.2,3.0,3.3,4.0,5.2,4.5,2.2,2.2,2.3,1.7,0.7,0.4,-0.1,-0.3,0.3],
    [-0.6,-0.4,0.5,0.3,0.3,0.0,-0.3,0.6,0.2,0.2,0.3,0.2,-0.1,-0.1,0.3,-0.1,0.5,
     2.9,2.5,1.6,0.6,0.4,2.5,1.7,2.0,1.8,2.0,3.0,3.1,3.3,3.5,3.0,1.5,0.3,-0.1,0.8,0.2,0.0,-0.3,-0.2,0.0],
]
symh_mean_7 = [-4,-7,-14,-12,-13,-12,-14,-12,-8,-10,-7,-5,-7,-6,-8,-10,-12,
               -11,-26,-22,-24,-20,-17,-23,-24,-24,-23,-28,-33,-34,-33,-44,-36,-30,-29,-30,-25,-18,-15,-14,-11]
symh_red_7 = [
    [-4,-5,-7,-8,-9,-8,-7,-8,-7,-10,-9,-8,-6,-4,-5,-6,-7,
     -10,-21,-20,-22,-16,-19,-18,-21,-18,-16,-20,-24,-28,-30,-33,-28,-25,-26,-25,-20,-14,-12,-10,-8],
    [-4,-10,-22,-17,-19,-15,-22,-17,-8,-10,-4,-1,-8,-10,-13,-16,-19,
     -15,-31,-25,-27,-13,-22,-28,-28,-30,-31,-38,-43,-40,-38,-50,-40,-33,-32,-36,-27,-20,-17,-16,-14],
]

pc_means = [pc_mean_0, pc_mean_1, pc_mean_2, pc_mean_3, pc_mean_4, pc_mean_5, pc_mean_6, pc_mean_7]
pc_reds = [pc_red_0, pc_red_1, pc_red_2, pc_red_3, pc_red_4, pc_red_5, pc_red_6, pc_red_7]
symh_means = [symh_mean_0, symh_mean_1, symh_mean_2, symh_mean_3, symh_mean_4, symh_mean_5, symh_mean_6, symh_mean_7]
symh_reds = [symh_red_0, symh_red_1, symh_red_2, symh_red_3, symh_red_4, symh_red_5, symh_red_6, symh_red_7]

for name, group in [("pc_mean", pc_means), ("symh_mean", symh_means)]:
    for i, s in enumerate(group):
        assert len(s) == len(hours), (name, i, len(s))
for name, group in [("pc_red", pc_reds), ("symh_red", symh_reds)]:
    for i, curves in enumerate(group):
        for j, s in enumerate(curves):
            assert len(s) == len(hours), (name, i, j, len(s))

# layout in pixels of the 1602x990 canvas
W, H = 1602, 990
col_left = [68, 466, 864, 1262]
col_w = 332
pc_rows = [(47, 231), (540, 724)]
symh_rows = [(263, 447), (756, 941)]
title_x = [[64, 453, 823, 1211], [56, 436, 838, 1249]]
title_base = [28.5, 523.5]

fig = plt.figure(figsize=(W / 100, H / 100), dpi=100)


def add_px_axes(x0, y0, x1, y1):
    return fig.add_axes([x0 / W, 1 - y1 / H, (x1 - x0) / W, (y1 - y0) / H])


def style_axes(ax, ylim, ymajor, yminor, ysize, xsize):
    ax.set_xlim(-16, 24)
    ax.set_ylim(*ylim)
    ax.xaxis.set_major_locator(MultipleLocator(8))
    ax.xaxis.set_minor_locator(MultipleLocator(1))
    ax.yaxis.set_major_locator(MultipleLocator(ymajor))
    ax.yaxis.set_minor_locator(MultipleLocator(yminor))
    ax.tick_params(which='both', direction='in', top=False, right=False, color='#333333')
    ax.tick_params(which='major', length=4, width=0.8, pad=3)
    ax.tick_params(which='minor', length=2, width=0.7)
    ax.tick_params(axis='y', labelsize=ysize, labelcolor='#222222')
    ax.tick_params(axis='x', labelsize=xsize, labelcolor='#222222')
    for sp in ax.spines.values():
        sp.set_linewidth(0.9)
        sp.set_color('#333333')


for g in range(8):
    r, c = divmod(g, 4)
    x0 = col_left[c]

    ax = add_px_axes(x0, pc_rows[r][0], x0 + col_w, pc_rows[r][1])
    for curve in pc_reds[g]:
        ax.plot(hours, curve, color='#ff0000', lw=0.9)
    ax.plot(hours, pc_means[g], color='black', lw=1.6)
    ax.axvline(0, color='black', lw=0.9)
    style_axes(ax, (-2, 8), 2, 1, 6.5, 6.5)

    ax2 = add_px_axes(x0, symh_rows[r][0], x0 + col_w, symh_rows[r][1])
    for curve in symh_reds[g]:
        ax2.plot(hours, curve, color='#ff0000', lw=0.9)
    ax2.plot(hours, symh_means[g], color='black', lw=1.6)
    ax2.axvline(0, color='black', lw=0.9)
    ax2.axhline(0, color='black', lw=0.8)
    style_axes(ax2, (-65, 40), 20, 10, 8 if c == 0 else 7, 8.5)

    fig.text(title_x[r][c] / W, 1 - title_base[r] / H, titles[g], fontsize=17,
             fontweight='bold', ha='left', va='baseline')

    if r == 0:
        fig.text((x0 + col_w / 2) / W, 1 - 483 / H, "Storm duration,  hours",
                 fontsize=8.5, ha='center', va='center', color='#222222')
    else:
        fig.text((x0 + col_w / 2) / W, 1 - 982 / H, "Storm duration,  hours",
                 fontsize=13, ha='center', va='center', color='#222222')

for yc, label in [(157, "PC,  mV/m"), (359, "SymH,  nT"), (637, "PC,  mV/m"), (851, "SymH,  nT")]:
    fig.text(26 / W, 1 - yc / H, label, rotation=90, fontsize=11, ha='center', va='center')

fig.savefig("out.png", dpi=100)
